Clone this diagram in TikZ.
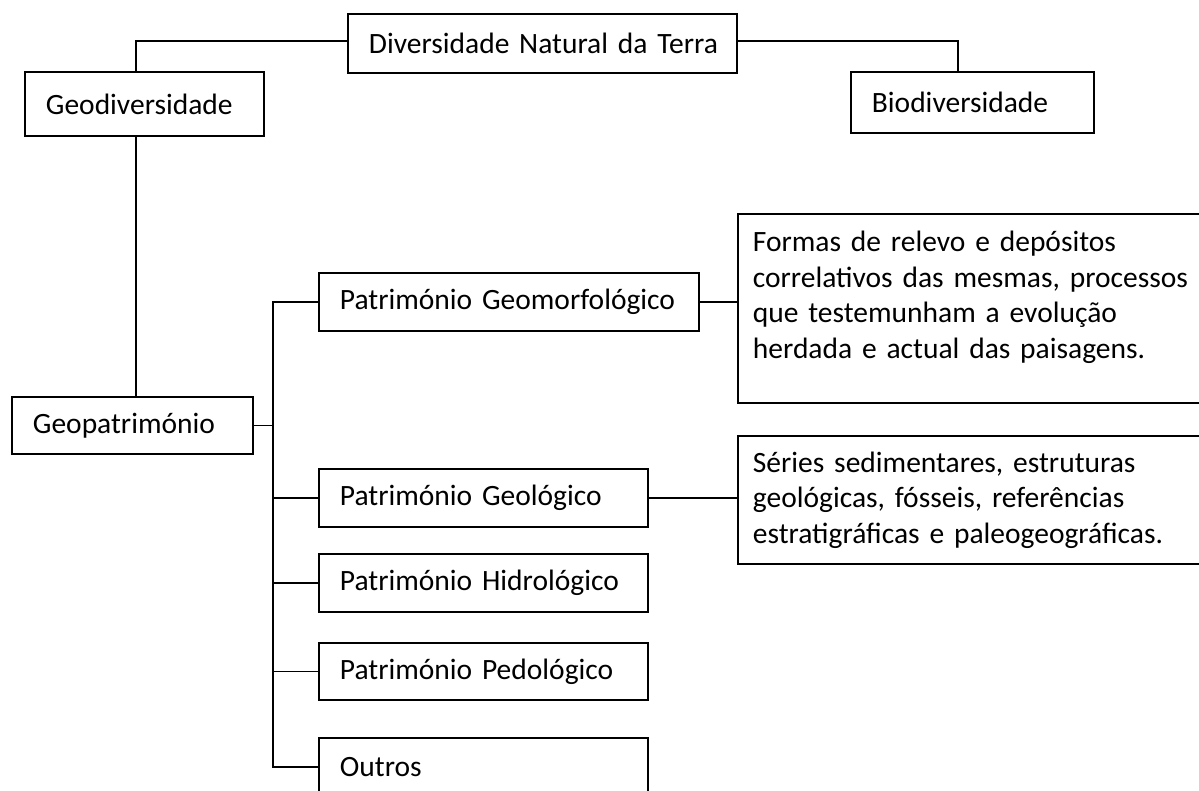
\documentclass[tikz,border=0pt]{standalone}
\usepackage{fontspec}
\setmainfont{Carlito}
\newcommand{\boxfont}{\fontsize{29.5pt}{35.5pt}\selectfont}
\begin{document}
\begin{tikzpicture}[x=1pt,y=-1pt,
  box/.style={draw, line width=1.8pt, align=left, anchor=north west,
    inner xsep=21pt, inner ysep=0pt, font=\boxfont},
  desc/.style={box, inner xsep=15pt},
  conn/.style={line width=1.8pt}]
\useasboundingbox (0,0) rectangle (1199,791);
\node[box, text width=347pt, minimum height=59pt] (div) at (347,13) {\mbox{Diversidade Natural da Terra}};
\node[box, text width=197pt, minimum height=64pt] (geo) at (24,71) {\mbox{Geodiversidade}};
\node[box, text width=201pt, minimum height=61pt] (bio) at (850,71) {\mbox{Biodiversidade}};
\node[box, text width=199pt, minimum height=57pt] (gp) at (11,396) {\mbox{Geopatrimónio}};
\node[box, text width=338pt, minimum height=58pt] (pgm) at (318,272) {\mbox{Património Geomorfológico}};
\node[box, text width=287pt, minimum height=58pt] (pgl) at (318,468) {\mbox{Património Geológico}};
\node[box, text width=287pt, minimum height=58pt] (phi) at (318,553) {\mbox{Património Hidrológico}};
\node[box, text width=287pt, minimum height=57pt] (pped) at (318,642) {\mbox{Património Pedológico}};
\node[box, text width=287pt, minimum height=58pt] (out) at (318,737) {\mbox{Outros}};
\node[desc, text width=450pt, minimum height=189pt, text depth=134pt] (formas) at (737,213) {Formas de relevo e depósitos\\correlativos das mesmas, processos\\que testemunham a evolução\\herdada e actual das paisagens.};
\node[desc, text width=450pt, minimum height=128pt] (series) at (737,435) {Séries sedimentares, estruturas\\geológicas, fósseis, referências\\estratigráficas e paleogeográficas.};
\coordinate (tr) at (273,0);
\draw[conn] ([yshift=2.5pt]div.west) -| ([xshift=-8.5pt]geo.north);
\draw[conn] ([yshift=2.5pt]div.east) -| ([xshift=-14.5pt]bio.north);
\draw[conn] ([xshift=-8.5pt]geo.south) -- ([xshift=-8.5pt]geo.south |- gp.north);
\draw[conn] (gp.east) -- (gp.east -| tr);
\draw[conn] (pgm.west) -| (tr |- out.west) -- (out.west);
\draw[conn] (tr |- pgl.west) -- (pgl.west);
\draw[conn] (tr |- phi.west) -- (phi.west);
\draw[conn] (tr |- pped.west) -- (pped.west);
\draw[conn] (pgm.east) -- (pgm.east -| formas.west);
\draw[conn] (pgl.east) -- (pgl.east -| series.west);
\end{tikzpicture}
\end{document}
